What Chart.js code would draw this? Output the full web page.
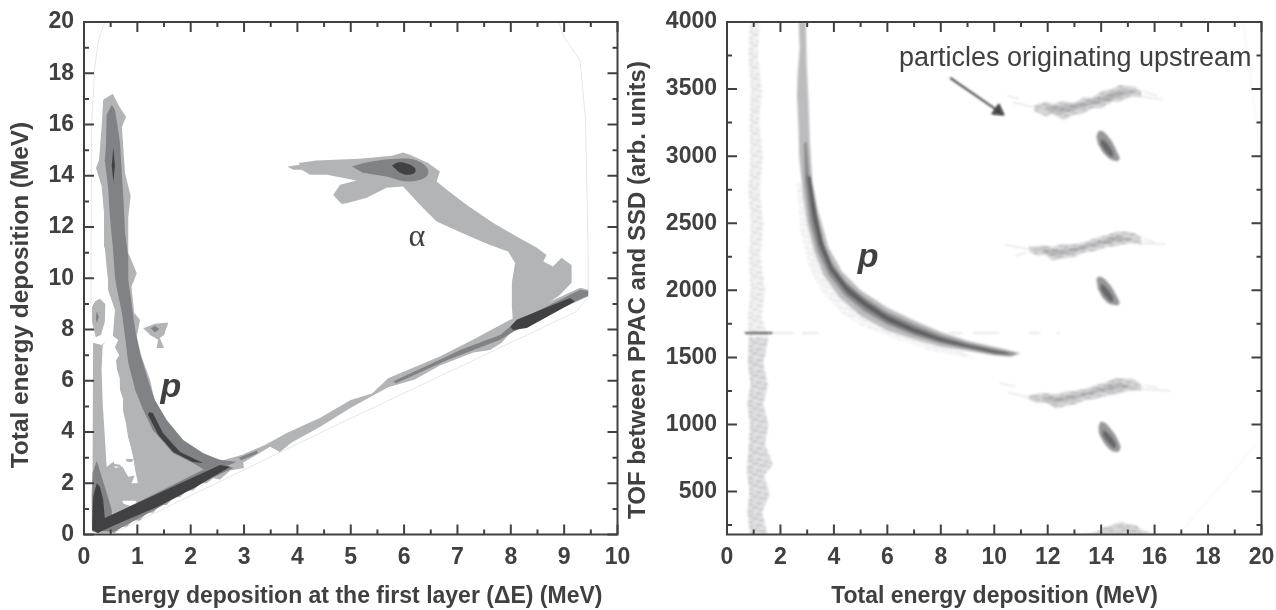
<!DOCTYPE html>
<html>
<head>
<meta charset="utf-8">
<script src="https://cdn.jsdelivr.net/npm/chart.js@4"></script>
<style>
  body { margin: 0; background: #fff; }
  #wrap { position: relative; width: 1276px; height: 610px; overflow: hidden; }
  canvas { position: absolute; top: 0; }
</style>
</head>
<body>
<div id="wrap">
  <canvas id="leftChart" width="640" height="610" style="left:0"></canvas>
  <canvas id="rightChart" width="656" height="610" style="left:620px"></canvas>
</div>
<script>
// Tick labels
const leftXTicks = [0, 1, 2, 3, 4, 5, 6, 7, 8, 9, 10];
const leftYTicks = [0, 2, 4, 6, 8, 10, 12, 14, 16, 18, 20];
const rightXTicks = [0, 2, 4, 6, 8, 10, 12, 14, 16, 18, 20];
const rightYTicks = [500, 1000, 1500, 2000, 2500, 3000, 3500, 4000];

// Left panel contours, [dE, E]
const protonLight = [[.54,17.2],[.66,16.7],[.79,16.3],[.71,15.9],[.74,15],[.77,14.1],[.875,13.2],[.83,12.4],[.83,11],[.99,10.2],[.89,9.67],[.94,8.65],[1.05,8.38],[.99,7.71],[1.08,6.93],[1.24,6.03],[1.33,5.13],[1.55,4.2],[1.86,3.57],[2.23,3.1],[2.6,2.9],[2.96,3.1],[3,2.6],[2.74,2.5],[2.55,2.15],[2.42,2.2],[2.3,2],[2.18,2],[2.05,1.72],[1.92,1.72],[1.8,1.45],[1.68,1.45],[1.55,1.15],[1.42,1.15],[1.3,.85],[1.18,.85],[1.05,.55],[.92,.55],[.8,.3],[.7,.3],[.58,.06],[.26,.04],[.15,.12],[.14,1.5],[.16,2.4],[.17,7.48],[.33,7.4],[.45,7.6],[.54,7.71],[.58,8.77],[.45,9.55],[.45,9.94],[.43,10.3],[.39,11.2],[.375,12.55],[.33,13.6],[.225,14.3],[.28,14.6],[.33,15.9],[.36,16.97]];
const protonHole = [[.35,7.4],[.52,7.79],[.64,7.59],[.58,7.3],[.66,7],[.6,6.8],[.62,6.42],[.67,6.1],[.675,5.64],[.73,5.3],[.73,4.86],[.79,4.3],[.825,3.81],[.88,3.4],[.92,3.03],[.96,2.52],[1.01,2.01],[.89,2],[.95,2.3],[.83,2.25],[.72,2.65],[.58,2.6],[.56,2.85],[.425,2.64],[.39,3.81],[.35,5.13],[.33,6.42]];
const protonSpeck = [[.72,1.32],[.98,1.32],[.98,1.2],[.86,1.12],[.74,1.2]];
const holeIslands = [[.5,2.78],[.68,2.72],[.7,2.62],[.52,2.68]];
const holeIslandRight = [[.78,2.95],[.92,2.95],[.9,2.82],[.8,2.85]];
const stripBlob = [[.3,9.2],[.4,9],[.39,8.3],[.32,7.8],[.22,7.7],[.15,8.3],[.15,8.9],[.21,9.1]];
const stripBlobCore = [[.24,8.7],[.28,8.5],[.24,8.25],[.22,8.45]];
const smallBlob = [[1.11,8.05],[1.33,8.22],[1.58,8.27],[1.5,7.79],[1.42,7.67],[1.5,7.28],[1.36,7.28],[1.39,7.6],[1.24,7.79]];
const smallBlobCore = [[1.25,8.05],[1.33,8.15],[1.41,8.02],[1.33,7.88]];
const diagonalLight = [[2.9,3.05],[3.4,3.5],[3.8,3.96],[4.42,4.55],[5,5.25],[5.4,5.5],[5.7,6.1],[6.67,6.95],[7.29,7.6],[7.99,8.38],[9.3,9.63],[9.45,9.55],[9.45,9.29],[9.24,9.09],[8.04,7.98],[7.83,7.48],[7.61,7.2],[7.3,7.1],[6.67,6.6],[6.2,6.05],[5.7,5.75],[5,4.95],[4.42,4.2],[3.9,3.6],[3.67,3.22],[3.49,3.42],[3.1,2.95],[2.8,2.6]];
const diagonalSpots = [[2.9,3],[3.25,3.28],[3.25,3.16],[2.95,2.9]];
const diagonalMid = [[5.8,5.98],[6.8,6.95],[7.05,7.2],[7.8,7.79],[8.1,8.3],[9.3,9.55],[9.45,9.5],[9.45,9.33],[9.24,9.12],[8.04,7.9],[7.8,7.6],[6.8,6.8],[5.85,5.9]];
const diagonalDark = [[7.99,8.11],[8.11,8.38],[9.11,9.23],[9.2,9.09],[8.3,8.06],[8.04,7.98]];
const protonMid = [[.52,16.77],[.425,16.38],[.41,15.14],[.39,14.6],[.45,13.57],[.49,12.28],[.54,11.23],[.58,10.05],[.61,9.66],[.71,8.65],[.77,7.71],[.83,6.7],[.96,5.64],[1.11,4.86],[1.29,4.08],[1.67,3.18],[2.04,2.79],[2.36,2.4],[2.86,2.84],[2.55,2.91],[2.23,3.18],[1.86,3.69],[1.55,4.47],[1.33,5.25],[1.2,6.03],[1.05,7.08],[.96,7.98],[.89,9.03],[.83,9.94],[.83,10.84],[.77,11.77],[.74,13.06],[.675,15.28],[.62,16.06],[.58,16.58]];
const protonTopDark = [[.55,15.09],[.58,14.4],[.55,13.76],[.52,14.4]];
const protonArcDark = [[1.22,4.78],[1.29,4.74],[1.48,3.96],[1.8,3.22],[2.23,2.79],[2.04,2.83],[1.67,3.22],[1.39,3.89],[1.2,4.67]];
const cornerMid = [[.24,2.87],[.16,2.4],[.15,.2],[.55,.1],[1.42,1.07],[2.17,2],[2.8,2.6],[2.5,2.8],[.52,.75],[.52,.96],[.4,1.8]];
const cornerDark = [[.24,2],[.17,1.46],[.15,.18],[.26,.06],[.58,.37],[1.4,1.1],[2.1,1.85],[2.74,2.64],[2.55,2.71],[.39,.64],[.36,1.35],[.3,1.85]];
const alphaLight = [[3.81,14.36],[4.05,14.43],[4.02,14.5],[4.36,14.6],[5.17,14.66],[5.77,14.78],[5.98,14.91],[6.11,14.82],[6.45,14.5],[6.67,14.17],[6.61,13.78],[6.8,13.45],[7.17,12.87],[7.67,12.16],[8.11,11.63],[8.49,11.19],[8.67,10.91],[8.61,10.65],[8.79,10.46],[8.95,10.8],[9.14,10.52],[9.14,9.82],[8.92,9.35],[8.23,8.38],[8.04,8.31],[8.02,8.9],[8.02,9.82],[8.08,10.6],[7.95,11.04],[7.61,11.3],[7.17,11.69],[6.61,12.21],[6.35,12.75],[5.98,13.58],[5.67,13.53],[5.3,13.14],[4.92,12.93],[4.83,12.9],[4.67,13.25],[4.8,13.65],[5.11,13.81],[4.55,14.04],[4.24,14.04],[4.08,14.23],[3.92,14.23]];
const alphaMid = [[5.02,14.36],[5.3,14.52],[5.86,14.66],[6.24,14.6],[6.45,14.23],[6.39,13.92],[6.05,13.78],[5.67,13.97],[5.23,14.12]];
const alphaDark = [[5.77,14.4],[5.88,14.52],[6.05,14.48],[6.2,14.3],[6.2,14.12],[6.05,14.04],[5.9,14.15]];
const faintContour = [[.39,20],[.27,19.3],[.2,18.2],[.17,17],[.14,15.9],[.13,9],null,[.55,.05],[4.42,3.96],[9.23,8.7],[9.45,9.26],[9.45,11],[9.4,16.2],[9.3,18.5],[9,19.4],[8.9,20]];

// Right panel density regions, [E, TOF]
const curveLight = [[2.68,4000],[2.72,3800],[2.64,3600],[2.62,3450],[2.68,3200],[2.7,3000],[2.85,2700],[3,2500],[3.25,2300],[3.6,2120],[4.2,1950],[5,1810],[6,1700],[7,1635],[8,1580],[9,1550],[10,1515],[10.6,1505],[11,1530],[10.4,1560],[9,1625],[8,1690],[7,1775],[6,1870],[5,2000],[4.3,2140],[3.8,2320],[3.4,2600],[3.2,2800],[3.1,3100],[3.05,3400],[2.98,3700],[2.95,4000]];
const curveMid = [[2.88,3100],[2.92,2800],[3.12,2500],[3.4,2290],[3.8,2120],[4.4,1965],[5.1,1850],[6,1745],[7,1665],[8,1605],[9,1565],[10,1525],[10.6,1515],[10.85,1530],[10.3,1550],[9,1605],[8,1665],[7,1745],[6,1835],[5.1,1950],[4.4,2070],[3.9,2210],[3.55,2380],[3.3,2600],[3.1,2800],[2.98,3100]];
const curveDark = [[3,2850],[3.2,2550],[3.45,2340],[3.85,2150],[4.5,1980],[5.2,1870],[6,1770],[7,1685],[8,1620],[9,1578],[10,1535],[10.5,1525],[10.5,1535],[10,1550],[9,1592],[8,1645],[7,1720],[6,1810],[5.2,1915],[4.5,2030],[3.95,2170],[3.6,2340],[3.35,2560],[3.12,2850]];
const curveHaze = [[2.6,2800],[2.75,2450],[3.05,2180],[3.6,1980],[4.3,1830],[5,1740],[6,1660],[7.5,1560],[8.5,1510],[9.3,1500],[8,1620],[6,1800],[4.5,2000],[3.5,2400],[3,2800]];
const vStripUpper = [[.86,4000],[.8,3750],[.9,3500],[.84,3250],[.88,3000],[.8,2750],[.9,2500],[.82,2250],[.88,2000],[.78,1800],[.82,1650],[1.55,1650],[1.3,1800],[1.42,2000],[1.25,2250],[1.36,2500],[1.22,2750],[1.34,3000],[1.2,3250],[1.3,3500],[1.15,3750],[1.22,4000]];
const vStripLower = [[.82,1650],[.78,1450],[.88,1300],[.76,1150],[.86,1000],[.8,800],[.74,650],[.84,500],[.76,350],[.86,180],[1.5,180],[1.32,350],[1.6,480],[1.38,620],[1.72,700],[1.42,850],[1.55,1000],[1.36,1150],[1.52,1300],[1.36,1450],[1.55,1650]];
const flatLine = [[.67,1682],[1.7,1682]];
const flatDashes = [[1.7,1682],[2.5,1682],null,[2.8,1682],[3.4,1682],null,[8.28,1682],[8.8,1682],null,[9.2,1682],[10.2,1682],null,[11.3,1682],[11.7,1682],null,[12.35,1682],[12.45,1682]];
const streakTop = [[11.5,3335],[11.9,3300],[12.2,3310],[12.6,3270],[13,3310],[13.3,3315],[13.7,3360],[14,3355],[14.4,3405],[14.7,3405],[15.1,3445],[15.5,3440],[15.5,3490],[15.2,3520],[14.7,3530],[14.4,3500],[14,3485],[13.7,3440],[13.3,3435],[13,3395],[12.6,3410],[12.2,3390],[11.9,3405],[11.5,3375]];
const streakTopCore = [[12,3340],[12.5,3320],[13.3,3360],[14.2,3410],[15,3460],[15.3,3480],[14.7,3495],[14,3445],[13.3,3400],[12.5,3375],[12,3375]];
const streakTopWisps = [[10.7,3400],[11.5,3365],null,[10.5,3450],[10.9,3430],null,[15.4,3450],[16.3,3420],null,[15.6,3480],[16.1,3450]];
const streakMiddle = [[11.3,2290],[11.6,2260],[11.9,2265],[12.2,2220],[12.6,2240],[13,2250],[13.4,2285],[13.8,2295],[14.2,2325],[14.6,2330],[15,2350],[15.5,2345],[15.5,2395],[15.2,2430],[14.6,2440],[14.2,2410],[13.8,2390],[13.4,2360],[13,2345],[12.6,2345],[12.2,2325],[11.9,2335],[11.6,2330],[11.3,2325]];
const streakMiddleCore = [[11.8,2285],[12.3,2255],[13,2285],[13.8,2335],[14.6,2365],[15.2,2380],[14.6,2405],[13.8,2360],[13,2315],[12.3,2300],[11.8,2310]];
const streakMiddleWisps = [[10.4,2340],[11.3,2305],null,[10.8,2260],[11.2,2280],null,[15.4,2350],[16.4,2345],null,[15.6,2380],[16,2360]];
const streakBottom = [[11.3,1185],[11.6,1160],[11.9,1165],[12.3,1120],[12.7,1140],[13,1150],[13.4,1180],[13.8,1190],[14.2,1215],[14.6,1225],[15,1250],[15.5,1255],[15.5,1300],[15.2,1340],[14.5,1345],[14.2,1315],[13.8,1295],[13.4,1265],[13,1250],[12.7,1245],[12.3,1225],[11.9,1235],[11.6,1230],[11.3,1215]];
const streakBottomCore = [[11.8,1185],[12.3,1160],[13,1190],[13.8,1235],[14.6,1265],[15.2,1285],[14.6,1310],[13.8,1265],[13,1220],[12.3,1200],[11.8,1210]];
const streakBottomWisps = [[10.5,1240],[11.3,1200],null,[10.2,1310],[10.8,1280],null,[15.4,1265],[16.6,1250],null,[15.6,1290],[16.1,1275]];
const streakAxis = [[13.2,180],[13.6,190],[13.9,205],[14.1,235],[14.3,240],[14.6,265],[14.8,270],[15,255],[15.3,250],[15.5,215],[15.8,195],[16,180]];
const blobTop = [[13.82,3150],[13.95,3190],[14.25,3150],[14.6,3030],[14.68,2975],[14.5,2965],[14.15,3010],[13.88,3090]];
const blobTopCore = [[14,3130],[14.2,3100],[14.45,3020],[14.4,2995],[14.15,3040],[13.98,3090]];
const blobMiddle = [[13.82,2085],[13.95,2102],[14.25,2060],[14.6,1950],[14.68,1900],[14.5,1890],[14.15,1925],[13.88,2010]];
const blobMiddleCore = [[14,2050],[14.2,2015],[14.45,1940],[14.4,1915],[14.15,1960],[13.98,2010]];
const blobBottom = [[13.9,985],[14.02,1021],[14.35,970],[14.68,860],[14.7,810],[14.5,797],[14.2,840],[13.92,930]];
const blobBottomCore = [[14.08,960],[14.3,925],[14.55,850],[14.5,825],[14.25,870],[14.06,920]];
const faintDiagonals = [[16.95,195],[19.85,862],null,[19.3,4000],[20,3000]];

// Notes on the panels
const arrowLine = [[8.35,3583],[10.15,3337]];
const leftNotes = [["p", 1.63, 5.72], ["α", 6.24, 11.6]];
const rightNotes = [["p", 5.28, 2241], ["particles originating upstream", 13.03, 3730]];

const INK = "#404042";
const LIGHT = "#b2b4b6";
const MID = "#808285";
const DARK = "#414042";

// Small tile that gives the noisy streaks of the density map
function hatch(base, streak) {
  const tile = document.createElement("canvas");
  tile.width = 37;
  tile.height = 11;
  const c = tile.getContext("2d");
  c.fillStyle = base;
  c.fillRect(0, 0, 37, 11);
  c.fillStyle = streak;
  c.fillRect(2, 0, 9, 1);
  c.fillRect(21, 1, 6, 1);
  c.fillRect(8, 3, 5, 1);
  c.fillRect(28, 3, 8, 1);
  c.fillRect(0, 5, 4, 1);
  c.fillRect(15, 5, 7, 1);
  c.fillRect(6, 7, 8, 1);
  c.fillRect(25, 8, 6, 1);
  c.fillRect(17, 9, 5, 1);
  c.fillRect(33, 10, 4, 1);
  return c.createPattern(tile, "repeat");
}

function toPoints(list) {
  return list.map(p => p ? { x: p[0], y: p[1] } : { x: NaN, y: NaN });
}

function area(list, color, tension) {
  return {
    data: toPoints(list),
    showLine: true,
    fill: "shape",
    backgroundColor: color,
    borderColor: "transparent",
    borderWidth: 0,
    pointRadius: 0,
    tension: tension || 0
  };
}

function stroke(list, color, width) {
  return {
    data: toPoints(list),
    showLine: true,
    fill: false,
    borderColor: color,
    borderWidth: width,
    pointRadius: 0,
    tension: 0,
    spanGaps: false
  };
}

// Ticks point inwards on all four sides of the frame
function drawFrame(chart, xMinor, yMinor, xMajor, yMajor) {
  const ctx = chart.ctx;
  const a = chart.chartArea;
  const xs = chart.scales.x;
  const ys = chart.scales.y;
  ctx.save();
  ctx.strokeStyle = INK;
  ctx.lineWidth = 2;
  ctx.strokeRect(a.left, a.top, a.right - a.left, a.bottom - a.top);
  ctx.beginPath();
  const tick = (x1, y1, x2, y2) => { ctx.moveTo(x1, y1); ctx.lineTo(x2, y2); };
  xMajor.forEach(v => { const p = xs.getPixelForValue(v); tick(p, a.bottom, p, a.bottom - 10); tick(p, a.top, p, a.top + 10); });
  xMinor.forEach(v => { const p = xs.getPixelForValue(v); tick(p, a.bottom, p, a.bottom - 5); tick(p, a.top, p, a.top + 5); });
  yMajor.forEach(v => { const p = ys.getPixelForValue(v); tick(a.left, p, a.left + 10, p); tick(a.right, p, a.right - 10, p); });
  yMinor.forEach(v => { const p = ys.getPixelForValue(v); tick(a.left, p, a.left + 5, p); tick(a.right, p, a.right - 5, p); });
  ctx.stroke();
  ctx.restore();
}

function drawNotes(chart, notes) {
  const ctx = chart.ctx;
  ctx.save();
  ctx.fillStyle = INK;
  ctx.textAlign = "center";
  ctx.textBaseline = "middle";
  notes.forEach(n => {
    ctx.font = n[0] === "p" ? "italic bold 34px 'Liberation Sans'"
      : n[0] === "α" ? "32px 'Liberation Serif'" : "27px 'Liberation Sans'";
    ctx.fillText(n[0], chart.scales.x.getPixelForValue(n[1]), chart.scales.y.getPixelForValue(n[2]));
  });
  ctx.restore();
}

// Axis titles sit off centre in the figure, so they are placed by hand
function drawTitles(chart, xTitle, xCentre, xBase, yTitle, yCentre, yBase, ySize) {
  const ctx = chart.ctx;
  ctx.save();
  ctx.fillStyle = INK;
  ctx.textAlign = "center";
  ctx.textBaseline = "middle";
  ctx.font = "bold 23px 'Liberation Sans'";
  ctx.fillText(xTitle, xCentre, xBase);
  ctx.translate(yBase, yCentre);
  ctx.rotate(-Math.PI / 2);
  ctx.font = "bold " + ySize + "px 'Liberation Sans'";
  ctx.fillText(yTitle, 0, 0);
  ctx.restore();
}

function softPlugin(radius) {
  return {
    id: "soft",
    beforeDatasetsDraw(chart) { chart.ctx.save(); chart.ctx.filter = "blur(" + radius + "px)"; },
    afterDatasetsDraw(chart) { chart.ctx.restore(); }
  };
}

function panelOptions(size, xMin, xMax, yMin, yMax, xTicks, yTicks, box) {
  const tickFont = { family: "'Liberation Sans'", size: 23, weight: "bold" };
  const label = v => String(v);
  return {
    responsive: false,
    animation: false,
    layout: { padding: { top: box.top, right: size - box.right, bottom: 0, left: 0 } },
    plugins: { legend: { display: false }, tooltip: { enabled: false } },
    scales: {
      x: {
        type: "linear", min: xMin, max: xMax,
        grid: { display: false, drawTicks: false },
        border: { display: false },
        afterBuildTicks: s => { s.ticks = xTicks.map(v => ({ value: v })); },
        afterFit: s => { s.height = 610 - box.bottom; s.paddingLeft = 0; s.paddingRight = 0; },
        ticks: { color: INK, font: tickFont, padding: 9, maxRotation: 0, autoSkip: false, callback: label }
      },
      y: {
        type: "linear", min: yMin, max: yMax,
        grid: { display: false, drawTicks: false },
        border: { display: false },
        afterBuildTicks: s => { s.ticks = yTicks.map(v => ({ value: v })); },
        afterFit: s => { s.width = box.left; s.paddingTop = 0; s.paddingBottom = 0; },
        ticks: { color: INK, font: tickFont, padding: 10, autoSkip: false, callback: label }
      }
    }
  };
}

// Layers listed from back to front, Chart.js paints the first dataset last
const leftLayers = [
  stroke(faintContour, "#e6e6e6", 1),
  area(protonLight, LIGHT), area(protonHole, "#fff"), area(protonSpeck, "#fff"),
  area(holeIslands, LIGHT), area(holeIslandRight, LIGHT),
  area(stripBlob, LIGHT), area(smallBlob, LIGHT), area(diagonalLight, LIGHT), area(alphaLight, LIGHT),
  area(diagonalSpots, MID),
  area(stripBlobCore, MID), area(smallBlobCore, MID), area(diagonalMid, MID), area(protonMid, MID),
  area(cornerMid, MID), area(alphaMid, MID, 0.4),
  area(protonTopDark, DARK), area(protonArcDark, DARK), area(cornerDark, DARK),
  area(diagonalDark, DARK), area(alphaDark, DARK, 0.4)
];

new Chart(document.getElementById("leftChart"), {
  type: "scatter",
  data: { datasets: leftLayers.reverse() },
  options: panelOptions(640, 0, 10, 0, 20, leftXTicks, leftYTicks, { left: 84, right: 617.5, top: 22, bottom: 534.5 }),
  plugins: [softPlugin(0.5), {
    id: "frame",
    afterDraw(chart) {
      drawFrame(chart, [.5, 1.5, 2.5, 3.5, 4.5, 5.5, 6.5, 7.5, 8.5, 9.5],
        [1, 3, 5, 7, 9, 11, 13, 15, 17, 19], leftXTicks, leftYTicks);
      drawNotes(chart, leftNotes);
      drawTitles(chart, "Energy deposition at the first layer (ΔE) (MeV)", 352, 597,
        "Total energy deposition (MeV)", 295, 21, 24.4);
    }
  }]
});

const paleHatch = hatch("#f7f7f8", "#e2e2e4");
const upperStripHatch = hatch("#f1f1f2", "#cdcdcf");
const lowerStripHatch = hatch("#e0e0e2", "#b2b2b4");
const streakHatch = hatch("#d6d6d8", "#a8a8aa");
const coreHatch = hatch("#b8b8ba", "#929294");

const rightLayers = [
  stroke(faintDiagonals, "#f0f0f0", 1),
  area(vStripUpper, upperStripHatch), area(vStripLower, lowerStripHatch),
  area(curveHaze, paleHatch),
  area(curveLight, "#bcbcbe"), area(curveMid, "#8c8c8e"), area(curveDark, "#5e5e60"),
  stroke(flatDashes, "#cfcfd1", 1),
  stroke(flatLine, "#5a5a5c", 2),
  stroke(streakTopWisps, "#d8d8da", 1), stroke(streakMiddleWisps, "#d8d8da", 1), stroke(streakBottomWisps, "#d8d8da", 1),
  area(streakTop, streakHatch), area(streakMiddle, streakHatch), area(streakBottom, streakHatch), area(streakAxis, streakHatch),
  area(streakTopCore, coreHatch), area(streakMiddleCore, coreHatch), area(streakBottomCore, coreHatch),
  area(blobTop, "#98989a", 0.5), area(blobMiddle, "#98989a", 0.5), area(blobBottom, "#98989a", 0.5),
  area(blobTopCore, "#66666a", 0.5), area(blobMiddleCore, "#66666a", 0.5), area(blobBottomCore, "#66666a", 0.5),
  Object.assign(stroke(arrowLine, INK, 2), {
    pointRadius: [0, 6], pointStyle: "triangle", pointRotation: 125,
    pointBackgroundColor: INK, pointBorderColor: INK
  })
];

new Chart(document.getElementById("rightChart"), {
  type: "scatter",
  data: { datasets: rightLayers.reverse() },
  options: panelOptions(656, 0, 20, 180, 4000, rightXTicks, rightYTicks, { left: 107, right: 641.5, top: 22, bottom: 534.5 }),
  plugins: [softPlugin(0.9), {
    id: "frame",
    afterDraw(chart) {
      drawFrame(chart, [1, 3, 5, 7, 9, 11, 13, 15, 17, 19],
        [250, 750, 1250, 1750, 2250, 2750, 3250, 3750], rightXTicks, rightYTicks);
      drawNotes(chart, rightNotes);
      drawTitles(chart, "Total energy deposition (MeV)", 374.5, 597,
        "TOF between PPAC and SSD (arb. units)", 290, 18, 24);
    }
  }]
});
</script>
</body>
</html>
